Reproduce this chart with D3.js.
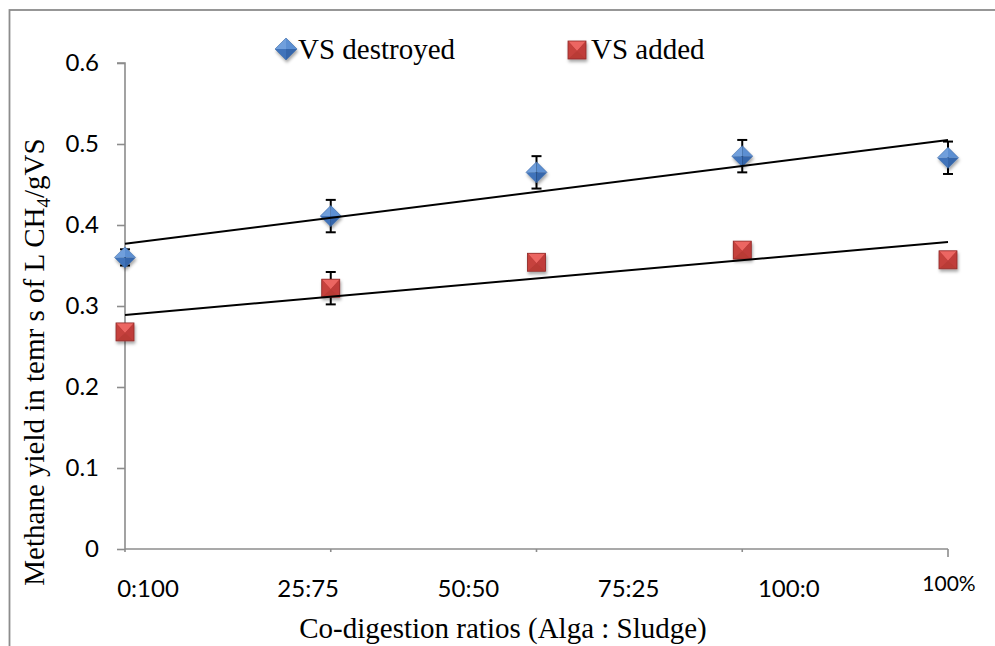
<!DOCTYPE html>
<html>
<head>
<meta charset="utf-8">
<script src="https://cdn.jsdelivr.net/npm/d3@7"></script>
<style>
  html, body { margin: 0; padding: 0; background: #fff; }
  svg { display: block; }
</style>
</head>
<body>
<svg id="chart" width="995" height="646"></svg>
<script>
// Methane yield per co-digestion ratio
const ratios = ["0:100", "25:75", "50:50", "75:25", "100:0"];
const axisLabels = ["0:100", "25:75", "50:50", "75:25", "100:0", "100%"];
const vsDestroyed = [0.360, 0.411, 0.465, 0.485, 0.483];
const vsDestroyedErr = [0.010, 0.020, 0.020, 0.020, 0.020];
const vsAdded = [0.268, 0.322, 0.354, 0.369, 0.357];
const vsAddedErr = [0.005, 0.020, 0.005, 0.010, 0.005];
const yTicks = [0, 0.1, 0.2, 0.3, 0.4, 0.5, 0.6];

const svg = d3.select("#chart");
const W = 995, H = 646;
const plot = { left: 125, right: 948, top: 63, bottom: 549 };

const x = d3.scaleLinear().domain([0, ratios.length - 1]).range([plot.left, plot.right]);
const xLab = d3.scalePoint().domain(axisLabels).range([148, 949]);
const y = d3.scaleLinear().domain([0, 0.6]).range([plot.bottom, plot.top]);

const defs = svg.append("defs");
const shadow = defs.append("filter").attr("id", "shadow")
  .attr("x", "-50%").attr("y", "-50%").attr("width", "200%").attr("height", "200%");
shadow.append("feDropShadow").attr("dx", 1).attr("dy", 2.5)
  .attr("stdDeviation", 1.6).attr("flood-color", "#000").attr("flood-opacity", 0.35);

// outer frame
svg.append("rect").attr("x", 9.5).attr("y", 10).attr("width", W + 20).attr("height", H + 20)
  .attr("fill", "none").attr("stroke", "#8c8c8c").attr("stroke-width", 1.8);

// y axis
const yAxis = svg.append("g").attr("transform", `translate(${plot.left},0)`)
  .call(d3.axisLeft(y).tickValues(yTicks).tickSize(8).tickPadding(18)
    .tickFormat(d => d === 0 ? "0" : d.toFixed(1)));
yAxis.select(".domain").attr("stroke", "#8c8c8c").attr("stroke-width", 1.6)
  .attr("d", `M-8,${plot.top}H0V${plot.bottom}`);
yAxis.selectAll(".tick line").attr("stroke", "#8c8c8c").attr("stroke-width", 1.6);
yAxis.selectAll(".tick text").attr("font-family", "Lato, 'Open Sans', sans-serif")
  .attr("font-size", 24).attr("fill", "#000");

// x axis line and ticks
const xg = svg.append("g");
xg.append("line").attr("x1", plot.left).attr("x2", plot.right)
  .attr("y1", plot.bottom).attr("y2", plot.bottom)
  .attr("stroke", "#8c8c8c").attr("stroke-width", 1.6);
xg.selectAll("line.tick").data(ratios).join("line").attr("class", "tick")
  .attr("x1", (d, i) => x(i)).attr("x2", (d, i) => x(i))
  .attr("y1", plot.bottom).attr("y2", (d, i) => plot.bottom + (i === ratios.length - 1 ? 8 : 3))
  .attr("stroke", "#8c8c8c").attr("stroke-width", 1.6);
xg.selectAll("text").data(axisLabels).join("text")
  .attr("x", d => xLab(d))
  .attr("y", d => d === "100%" ? 591 : 597)
  .attr("text-anchor", "middle")
  .attr("font-family", "Lato, 'Open Sans', sans-serif")
  .attr("font-size", d => d === "100%" ? 21 : 24)
  .attr("fill", "#000")
  .text(d => d);

// axis titles
svg.append("text").attr("x", 503).attr("y", 638).attr("text-anchor", "middle")
  .attr("font-family", "'Liberation Serif', 'Times New Roman', serif").attr("font-size", 29)
  .attr("fill", "#000").text("Co-digestion ratios (Alga : Sludge)");

const yTitle = svg.append("text")
  .attr("transform", "translate(44,362) rotate(-90)")
  .attr("text-anchor", "middle")
  .attr("font-family", "'Liberation Serif', 'Times New Roman', serif").attr("font-size", 29)
  .attr("fill", "#000");
yTitle.append("tspan").text("Methane yield in temr s of L CH");
yTitle.append("tspan").attr("font-size", 19).attr("dy", 6).text("4");
yTitle.append("tspan").attr("dy", -6).text("/gVS");

// marker shapes with bevelled facets
function diamond(g, cx, cy, r) {
  const m = g.append("g").attr("filter", "url(#shadow)");
  const T = [cx, cy - r], B = [cx, cy + r], L = [cx - r, cy], R = [cx + r, cy], C = [cx, cy];
  const face = (pts, fill) => m.append("path").attr("d", "M" + pts.join("L") + "Z").attr("fill", fill);
  face([T, L, C], "#6f9fdc");
  face([T, R, C], "#5b8fd2");
  face([L, B, C], "#3f73ba");
  face([R, B, C], "#3566ab");
  m.append("path").attr("d", "M" + [T, R, B, L].join("L") + "Z")
    .attr("fill", "none").attr("stroke", "#3a68a8").attr("stroke-width", 0.6);
}
function square(g, cx, cy, h) {
  const m = g.append("g").attr("filter", "url(#shadow)");
  const TL = [cx - h, cy - h], TR = [cx + h, cy - h], BL = [cx - h, cy + h], BR = [cx + h, cy + h], C = [cx, cy + 1];
  const face = (pts, fill) => m.append("path").attr("d", "M" + pts.join("L") + "Z").attr("fill", fill);
  face([TL, BL, BR, TR], "#b93a36");
  face([TL, TR, C], "#ec6662");
  face([TL, BL, C], "#c6423e");
  face([TR, BR, C], "#c03e3a");
  m.append("rect").attr("x", cx - h).attr("y", cy - h).attr("width", 2 * h).attr("height", 2 * h)
    .attr("fill", "none").attr("stroke", "#8f2c2a").attr("stroke-width", 0.8);
}

// error bars
function errorBars(values, errs) {
  const g = svg.append("g").attr("stroke", "#000").attr("stroke-width", 2);
  values.forEach((v, i) => {
    const cx = x(i), y0 = y(v + errs[i]), y1 = y(v - errs[i]);
    g.append("line").attr("x1", cx).attr("x2", cx).attr("y1", y0).attr("y2", y1);
    g.append("line").attr("x1", cx - 5).attr("x2", cx + 5).attr("y1", y0).attr("y2", y0);
    g.append("line").attr("x1", cx - 5).attr("x2", cx + 5).attr("y1", y1).attr("y2", y1);
  });
}
errorBars(vsDestroyed, vsDestroyedErr);
errorBars(vsAdded, vsAddedErr);

const marks = svg.append("g");
vsDestroyed.forEach((v, i) => diamond(marks, x(i), y(v), 10.5));
vsAdded.forEach((v, i) => square(marks, x(i), y(v), 9));

// least-squares trend lines
function trend(values) {
  const xs = values.map((v, i) => i);
  const mx = d3.mean(xs), my = d3.mean(values);
  const slope = d3.sum(xs, (xi, k) => (xi - mx) * (values[k] - my)) / d3.sum(xs, xi => (xi - mx) ** 2);
  const icpt = my - slope * mx;
  const x0 = 0, x1 = values.length - 1;
  svg.append("line")
    .attr("x1", x(x0)).attr("y1", y(icpt + slope * x0))
    .attr("x2", x(x1)).attr("y2", y(icpt + slope * x1))
    .attr("stroke", "#000").attr("stroke-width", 2);
}
trend(vsDestroyed);
trend(vsAdded);

// legend
const lg = svg.append("g");
diamond(lg, 286, 49, 11);
lg.append("text").attr("x", 298).attr("y", 59)
  .attr("font-family", "'Liberation Serif', 'Times New Roman', serif").attr("font-size", 29)
  .attr("fill", "#000").text("VS destroyed");
square(lg, 577, 50, 9);
lg.append("text").attr("x", 591).attr("y", 59)
  .attr("font-family", "'Liberation Serif', 'Times New Roman', serif").attr("font-size", 29)
  .attr("fill", "#000").text("VS added");
</script>
</body>
</html>
